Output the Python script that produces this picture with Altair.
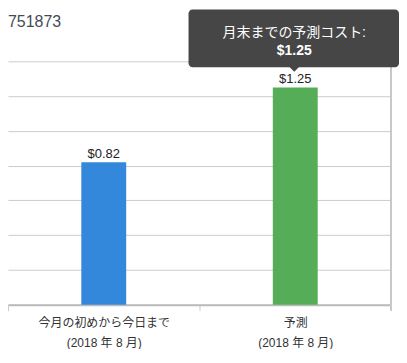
import altair as alt
import pandas as pd

# ---- data ----
categories = ["今月の初めから今日まで|(2018 年 8 月)", "予測|(2018 年 8 月)"]
values = [0.82, 1.25]
bar_colors = ["#3488DC", "#55AE57"]
grid_values = [0, 0.2, 0.4, 0.6, 0.8, 1.0, 1.2, 1.4]
title_text = "751873"
tip_title = "月末までの予測コスト:"
tip_value = "$1.25"

FONT = "Liberation Sans, Arial, Noto Sans CJK JP, sans-serif"

df = pd.DataFrame({"label": categories, "value": values})

W, H = 384, 244

x = alt.X(
    "label:N",
    sort=None,
    scale=alt.Scale(paddingInner=0, paddingOuter=0),
    axis=alt.Axis(
        title=None,
        labelAngle=0,
        tickBand="extent",
        labelExpr="split(datum.label, '|')",
        labelFont=FONT,
        labelFontSize=12,
        labelColor="#333333",
        labelLineHeight=20,
        labelPadding=7,
        tickSize=6,
        tickColor="#cccccc",
        domainColor="#bbbbbb",
        domainWidth=2,
        grid=False,
    ),
)
y = alt.Y(
    "value:Q",
    scale=alt.Scale(domain=[0, 1.4], nice=False),
    axis=alt.Axis(
        title=None,
        labels=False,
        ticks=False,
        domain=False,
        values=grid_values,
        gridColor="#cccccc",
        gridWidth=1,
    ),
)

base = alt.Chart(df)

bars = base.mark_bar(size=45).encode(
    x=x,
    y=y,
    color=alt.Color("label:N", scale=alt.Scale(domain=categories, range=bar_colors), legend=None),
)

value_labels = base.mark_text(
    baseline="alphabetic", dy=-4, fontSize=13, font=FONT, color="#222222"
).encode(x=x, y=y, text=alt.Text("value:Q", format="$.2f"))

right_rule = alt.Chart(pd.DataFrame({"a": [0]})).mark_rule(
    color="#c8c8c8", strokeWidth=2
).encode(x=alt.value(W), y=alt.value(0), y2=alt.value(H + 6))

title = alt.Chart(pd.DataFrame({"t": [title_text]})).mark_text(
    align="left", baseline="alphabetic", fontSize=16, font=FONT, color="#444a55"
).encode(x=alt.value(0), y=alt.value(-34), text="t:N")

tip_box = alt.Chart(pd.DataFrame({"a": [0]})).mark_rect(
    color="#464646", cornerRadius=4
).encode(x=alt.value(181), x2=alt.value(392), y=alt.value(-52), y2=alt.value(6))

tip_pointer = alt.Chart(pd.DataFrame({"a": [0]})).mark_point(
    shape="M-1,-0.5L1,-0.5L0,0.5Z", filled=True, size=100, color="#464646", opacity=1
).encode(x=alt.value(287), y=alt.value(8))

tip_line1 = alt.Chart(pd.DataFrame({"t": [tip_title]})).mark_text(
    align="center", baseline="alphabetic", fontSize=14, font=FONT, color="#ffffff"
).encode(x=alt.value(287), y=alt.value(-24), text="t:N")

tip_line2 = alt.Chart(pd.DataFrame({"t": [tip_value]})).mark_text(
    align="center", baseline="alphabetic", fontSize=14, fontWeight="bold", font=FONT, color="#ffffff"
).encode(x=alt.value(287), y=alt.value(-6), text="t:N")

chart = (
    alt.layer(bars, value_labels, right_rule, title, tip_box, tip_pointer, tip_line1, tip_line2)
    .properties(
        width=W,
        height=H,
        autosize=alt.AutoSizeParams(type="none"),
        padding={"left": 0, "top": 53, "right": 8, "bottom": 44},
        background="white",
    )
    .configure_view(stroke=None)
)

chart.save("out.html", embed_options={"renderer": "svg", "actions": False})
